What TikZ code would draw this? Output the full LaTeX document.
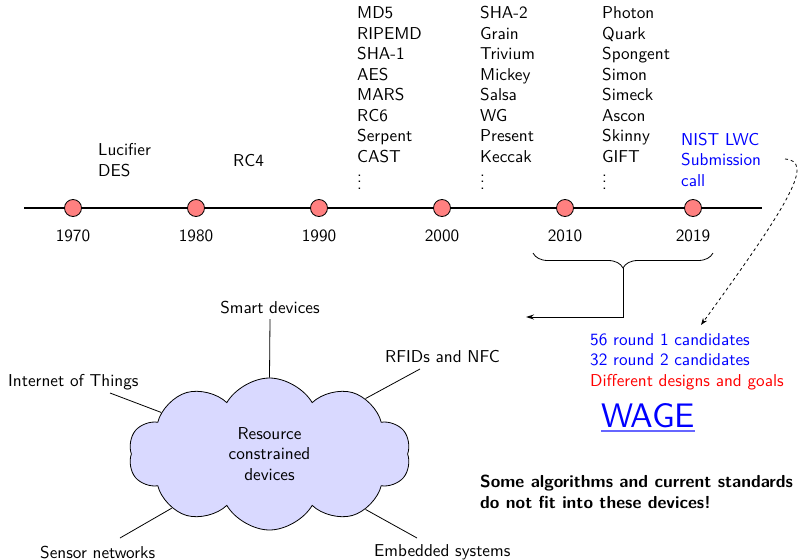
\documentclass[tikz,border=0pt]{standalone}
\usepackage{fontspec}
\setsansfont{lmsans10}[Extension=.otf,UprightFont=*-regular,BoldFont=*-bold]
\usetikzlibrary{shapes.symbols,decorations.pathreplacing,arrows.meta}
% vertical dots scaled to the body size
\newcommand\colvdots{\vbox{\baselineskip6.5pt\lineskiplimit0pt\hbox{.}\hbox{.}\hbox{.}}}
\begin{document}
\begin{tikzpicture}[x=1pt,y=1pt,
  every node/.style={font={\sffamily\fontsize{17.2}{20.5}\selectfont}},
  lbl/.style={anchor=base west,align=left,inner sep=0pt},
  yearlbl/.style={anchor=base,inner sep=0pt},
  dot/.style={circle,draw=black,fill=red!50,line width=0.8pt,minimum size=17pt,inner sep=0pt},
  link/.style={line width=0.8pt},
  devcloud/.style={cloud,cloud puffs=10,cloud puff arc=120,aspect=1.85,draw=black,
    fill=blue!15,line width=0.8pt,minimum width=282pt,minimum height=152pt,
    inner sep=0pt,align=center}]
\useasboundingbox (0,0) rectangle (807,-560);

% timeline
\coordinate (tstart) at (24,-208);
\coordinate (tend) at (762,-208);
\draw[line width=2pt] (tstart) -- (tend);
\foreach \x/\yr in {73/1970,196/1980,319/1990,442/2000,565/2010,693/2019}{
  \node[dot] (d\yr) at (\x,-208) {};
  \node[yearlbl] (l\yr) at (\x,-241) {\yr};
}

% algorithms per decade (anchored at the baseline of the last line)
\node[lbl] (c1970) at (98,-176) {Lucifier\\DES};
\node[lbl] (c1980) at (233,-166) {RC4};
\node[lbl] (c1990) at (357,-162) {MD5\\RIPEMD\\SHA-1\\AES\\MARS\\RC6\\Serpent\\CAST};
\node[lbl] (c2000) at (480,-162) {SHA-2\\Grain\\Trivium\\Mickey\\Salsa\\WG\\Present\\Keccak};
\node[lbl] (c2010) at (602,-162) {Photon\\Quark\\Spongent\\Simon\\Simeck\\Ascon\\Skinny\\GIFT};
\node[lbl] (v1990) at (357,-189) {\colvdots};
\node[lbl] (v2000) at (480,-189) {\colvdots};
\node[lbl] (v2010) at (602,-189) {\colvdots};
\node[lbl,text=blue] (nist) at (681,-186) {NIST LWC\\Submission\\call};

% brace over the last decade
\draw[decorate,decoration={brace,amplitude=15pt,mirror},line width=0.8pt] (533,-253) -- (713,-253);
\coordinate (bracetip) at (623,-268);
\coordinate (arrowend) at (526,-317);
\draw[line width=1pt,-{Stealth[length=8pt,width=5pt]}] (bracetip) |- (arrowend);

% competition facts
\node[lbl,text=blue] (facts) at (590,-386) {56 round 1 candidates\\32 round 2 candidates\\\textcolor{red}{Different designs and goals}};
\coordinate (nistout) at (785,-159);
\coordinate (factsin) at (701,-325);
\draw[dashed,line width=0.8pt,-{Stealth[length=7pt,width=5pt]}] (nistout) .. controls (814,-161) and (792,-200) .. (factsin);

\node[lbl,text=blue,font={\sffamily\fontsize{34}{40}\selectfont}] (wage) at (601,-427) {WAGE};
\draw[blue!60,line width=1.8pt] ([yshift=-4pt]wage.base west) -- ([yshift=-4pt]wage.base east);

\node[lbl,font={\sffamily\bfseries\fontsize{17.4}{20.5}\selectfont}] (note) at (480,-508) {Some algorithms and current standards\\do not fit into these devices!};

% device cloud
\node[devcloud] (cloud) at (269.5,-454) {Resource\\constrained\\devices};
\node[yearlbl] (smart) at (270,-313) {Smart devices};
\node[lbl] (rfid) at (385,-362) {RFIDs and NFC};
\node[lbl] (iot) at (8,-386) {Internet of Things};
\node[lbl] (sensor) at (40,-558) {Sensor networks};
\node[lbl] (embedded) at (374,-556) {Embedded systems};
\coordinate (smartend) at (270,-319);
\coordinate (rfidend) at (420,-369);
\coordinate (iotend) at (110,-393);
\coordinate (sensorend) at (120,-538);
\coordinate (embeddedend) at (417,-538);
\draw[link] (smartend) -- (cloud.north);
\draw[link] (rfidend) -- (cloud.30);
\draw[link] (iotend) -- (cloud.159);
\draw[link] (sensorend) -- (cloud.209);
\draw[link] (embeddedend) -- (cloud.330);
\end{tikzpicture}
\end{document}
